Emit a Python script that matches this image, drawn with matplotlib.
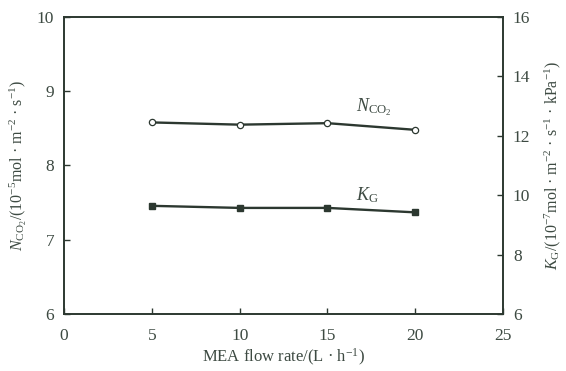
import matplotlib
matplotlib.use("Agg")
import matplotlib.pyplot as plt

plt.rcParams['font.family'] = ['Liberation Serif', 'DejaVu Serif']
plt.rcParams['mathtext.fontset'] = 'custom'
plt.rcParams['mathtext.rm'] = 'Liberation Serif'
plt.rcParams['mathtext.it'] = 'Liberation Serif:italic'

flow = [5, 10, 15, 20]
n_co2 = [8.58, 8.55, 8.57, 8.48]
k_g = [9.64, 9.57, 9.57, 9.42]

line_c = '#2c3830'
text_c = '#3d4a42'

fig = plt.figure(figsize=(5.66, 3.71), dpi=100)
ax = fig.add_axes([0.113, 0.154, 0.776, 0.80])
ax2 = ax.twinx()

ax.plot(flow, n_co2, '-o', color=line_c, lw=1.7, ms=4.5, mfc='white', mec=line_c, mew=0.9)
ax2.plot(flow, k_g, '-s', color=line_c, lw=1.7, ms=4.5, mfc=line_c, mec=line_c)

ax.set_xlim(0, 25)
ax.set_ylim(6, 10)
ax2.set_ylim(6, 16)
ax.set_xticks([0, 5, 10, 15, 20, 25])
ax.set_yticks([6, 7, 8, 9, 10])
ax2.set_yticks([6, 8, 10, 12, 14, 16])

for a in (ax, ax2):
    for s in a.spines.values():
        s.set_color(line_c)
        s.set_linewidth(1.2)
    a.tick_params(direction='in', length=4, width=1.0, colors=line_c, labelcolor=text_c, labelsize=12.5, pad=7)
ax.tick_params(axis='x', pad=10)

ax.set_xlabel(r'MEA flow rate/(L · h$^{-1}$)', fontsize=12, color=text_c, labelpad=2)
ax.set_ylabel(r'$N_{\rm CO_2}$/(10$^{-5}$mol · m$^{-2}$ · s$^{-1}$)', fontsize=11.5, color=text_c, labelpad=6)
ax2.set_ylabel(r'$K_{\rm G}$/(10$^{-7}$mol · m$^{-2}$ · s$^{-1}$ · kPa$^{-1}$)', fontsize=11.5, color=text_c, labelpad=9)

ax.text(16.6, 8.79, r'$N_{\rm CO_2}$', fontsize=13, color=text_c, ha='left', va='center')
ax.text(16.6, 7.60, r'$K_{\rm G}$', fontsize=13, color=text_c, ha='left', va='center')

fig.savefig('out.png', dpi=100)
